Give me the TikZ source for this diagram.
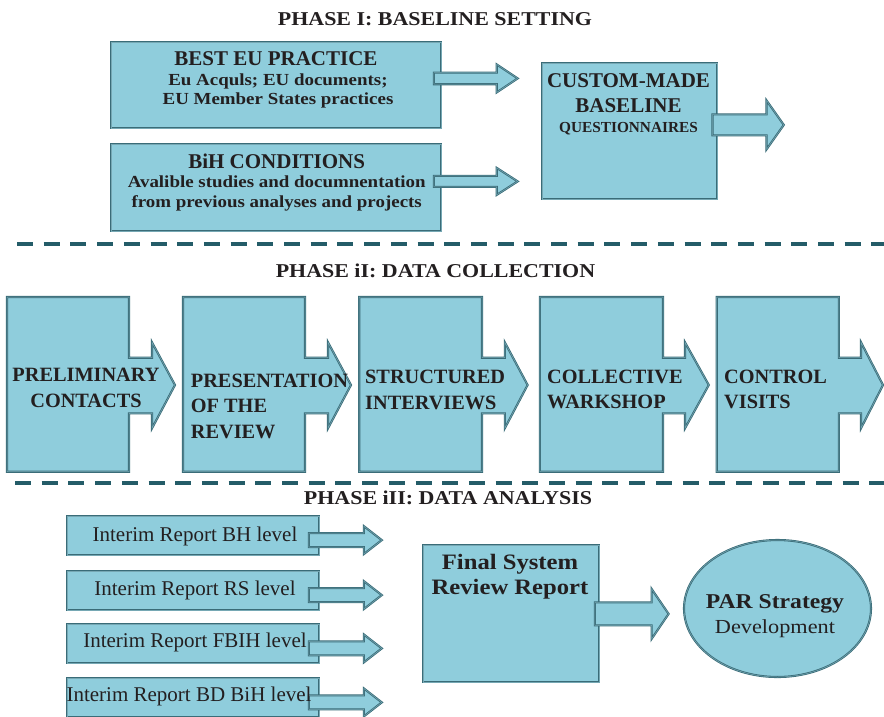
\documentclass[tikz,border=0pt]{standalone}
\usepackage{fontspec}
\setmainfont{Liberation Serif}
\newfontfamily\widefont[FakeStretch=1.12]{Liberation Serif}
\usetikzlibrary{calc,shapes.geometric}
\definecolor{boxfill}{RGB}{143,205,220}
\definecolor{boxline}{RGB}{58,108,120}
\definecolor{boxinner}{RGB}{118,168,180}
\definecolor{dashc}{RGB}{36,92,104}
\definecolor{txtc}{RGB}{35,31,32}
% block arrow: #1 start, #2 tip, #3 head length, #4 shaft half width, #5 head half width
\newcommand{\blockarrow}[5]{%
  \draw[box] ($(#1)+(0,-#4)$) -- ($(#2)+(-#3,-#4)$) -- ($(#2)+(-#3,-#5)$) -- (#2)
    -- ($(#2)+(-#3,#5)$) -- ($(#2)+(-#3,#4)$) -- ($(#1)+(0,#4)$) -- cycle;}
% phase II step shape: #1 left, #2 right of box, #3 head start, #4 tip
\newcommand{\stepshape}[4]{%
  \draw[box] (#1,297) -- (#2,297) -- (#2,357.7) -- (#3,357.7) -- (#3,342.3) -- (#4,385)
    -- (#3,428.3) -- (#3,413.3) -- (#2,413.3) -- (#2,471.7) -- (#1,471.7) -- cycle;}
\begin{document}
\begin{tikzpicture}[x=1pt,y=-1pt,
  box/.style={draw=boxline, double=boxinner, double distance=0.5pt, line width=0.8pt, fill=boxfill, line join=miter},
  rectbox/.style={box, rectangle, inner sep=0pt, anchor=north west},
  lbl/.style={text=txtc, inner sep=0pt, anchor=base},
  title/.style={lbl, font=\widefont\bfseries\fontsize{19.6}{24}\selectfont},
  capsb/.style={lbl, align=center, font=\bfseries\fontsize{21}{25}\selectfont},
  stepb/.style={lbl, font=\bfseries\fontsize{20.3}{25.5}\selectfont},
  subb/.style={lbl, align=center, font=\widefont\bfseries\fontsize{16.9}{19}\selectfont},
  interim/.style={lbl, font=\fontsize{21}{25}\selectfont},
  sepline/.style={draw=dashc, line width=4pt, dash pattern=on 16pt off 10.7pt}
]
\useasboundingbox (0,0) rectangle (884,716);

% ---------- Phase I ----------
\node[title] (t1) at (435,25.6) {PHASE I: BASELINE SETTING};
\node[rectbox, minimum width=330pt, minimum height=86pt] (best) at (111,42) {};
\node[rectbox, minimum width=330pt, minimum height=87pt] (bih) at (111,144) {};
\node[rectbox, minimum width=175.3pt, minimum height=136pt] (cust) at (541.7,63) {};

\coordinate (a1s) at ($(best.east)+(-8,-7)$);
\coordinate (a1t) at ($(cust.west |- a1s)+(-24,0)$);
\coordinate (a2s) at ($(bih.east)+(-8,-6.5)$);
\coordinate (a2t) at ($(cust.west |- a2s)+(-24,0)$);
\coordinate (a3s) at ($(cust.east)+(-5.3,-6.5)$);
\coordinate (a3t) at ($(a3s)+(71.3,0)$);
\blockarrow{a1s}{a1t}{21}{5.8}{14}
\blockarrow{a2s}{a2t}{21}{5.5}{13.5}
\blockarrow{a3s}{a3t}{17.3}{10.5}{24.5}

% (multi-line nodes: base anchor = baseline of the last line)
\node[capsb] (bestH) at (276,65) {BEST EU PRACTICE};
\node[subb] (bestS) at (278,104.5) {Eu Acquls; EU documents;\\EU Member States practices};
\node[capsb] (bihH) at (276.7,168.7) {BiH CONDITIONS};
\node[subb, font=\widefont\bfseries\fontsize{16.9}{20}\selectfont] (bihS) at (276.7,207.2) {Avalible studies and documnentation\\from previous analyses and projects};
\node[capsb] (custH) at (628.5,112) {CUSTOM-MADE\\BASELINE};
\node[capsb, font=\bfseries\fontsize{15.3}{18}\selectfont] (custS) at (628.5,132) {QUESTIONNAIRES};

\draw[sepline] (17,244) -- (884,244);

% ---------- Phase II ----------
\node[title] (t2) at (435.5,277.6) {PHASE iI: DATA COLLECTION};
\stepshape{7}{129}{152}{175}
\stepshape{183}{305}{328}{351}
\stepshape{359.2}{482}{504.8}{527.6}
\stepshape{539.8}{663}{685}{708.8}
\stepshape{716.7}{838.8}{861}{883}
\node[stepb, align=center] (p1) at (86,407.2) {PRELIMINARY\\CONTACTS};
\node[stepb, align=left, anchor=base west] (p2) at (190.7,438) {PRESENTATION\\OF THE\\REVIEW};
\node[stepb, align=left, anchor=base west] (p3) at (365,409) {STRUCTURED\\INTERVIEWS};
\node[stepb, align=left, anchor=base west] (p4) at (547,408.5) {COLLECTIVE\\WARKSHOP};
\node[stepb, align=left, anchor=base west] (p5) at (724,408.5) {CONTROL\\VISITS};

\draw[sepline] (15,483) -- (884,483);

% ---------- Phase III ----------
\node[title] (t3) at (448,504.6) {PHASE iII: DATA ANALYSIS};
\node[rectbox, minimum width=252.3pt, minimum height=39pt] (ib1) at (66.7,515.7) {};
\node[rectbox, minimum width=252.3pt, minimum height=39pt] (ib2) at (66.7,570.7) {};
\node[rectbox, minimum width=252.3pt, minimum height=39pt] (ib3) at (66.7,624) {};
\node[rectbox, minimum width=252.3pt, minimum height=39pt] (ib4) at (66.7,678) {};
\node[rectbox, minimum width=176pt, minimum height=137pt] (fin) at (423,545) {};
\node[box, ellipse, inner sep=0pt, minimum width=187pt, minimum height=137pt] (par) at (777.5,608.5) {};

\foreach \i in {1,2,3,4}{
  \coordinate (ia\i s) at ($(ib\i.east)+(-11,4.5)$);
  \coordinate (ia\i t) at ($(ib\i.east)+(62,4.5)$);
  \blockarrow{ia\i s}{ia\i t}{18}{7}{14}
}
\coordinate (a4s) at ($(fin.east)+(-5,0)$);
\coordinate (a4t) at ($(par.west |- a4s)+(-15,0)$);
\blockarrow{a4s}{a4t}{17}{11.5}{25}

\node[interim] (it1) at (195,541) {Interim Report BH level};
\node[interim] (it2) at (195,595) {Interim Report RS level};
\node[interim] (it3) at (195,647) {Interim Report FBIH level};
\node[interim] (it4) at (189,701) {Interim Report BD BiH level};
\node[lbl, align=center, font=\widefont\bfseries\fontsize{22}{25.5}\selectfont] (finT) at (510,594.5) {Final System\\Review Report};
\node[lbl, font=\widefont\bfseries\fontsize{21.1}{25}\selectfont] (parT) at (775,608) {PAR Strategy};
\node[lbl, font=\widefont\fontsize{19.9}{24}\selectfont] (parD) at (775,633.6) {Development};
\end{tikzpicture}
\end{document}
